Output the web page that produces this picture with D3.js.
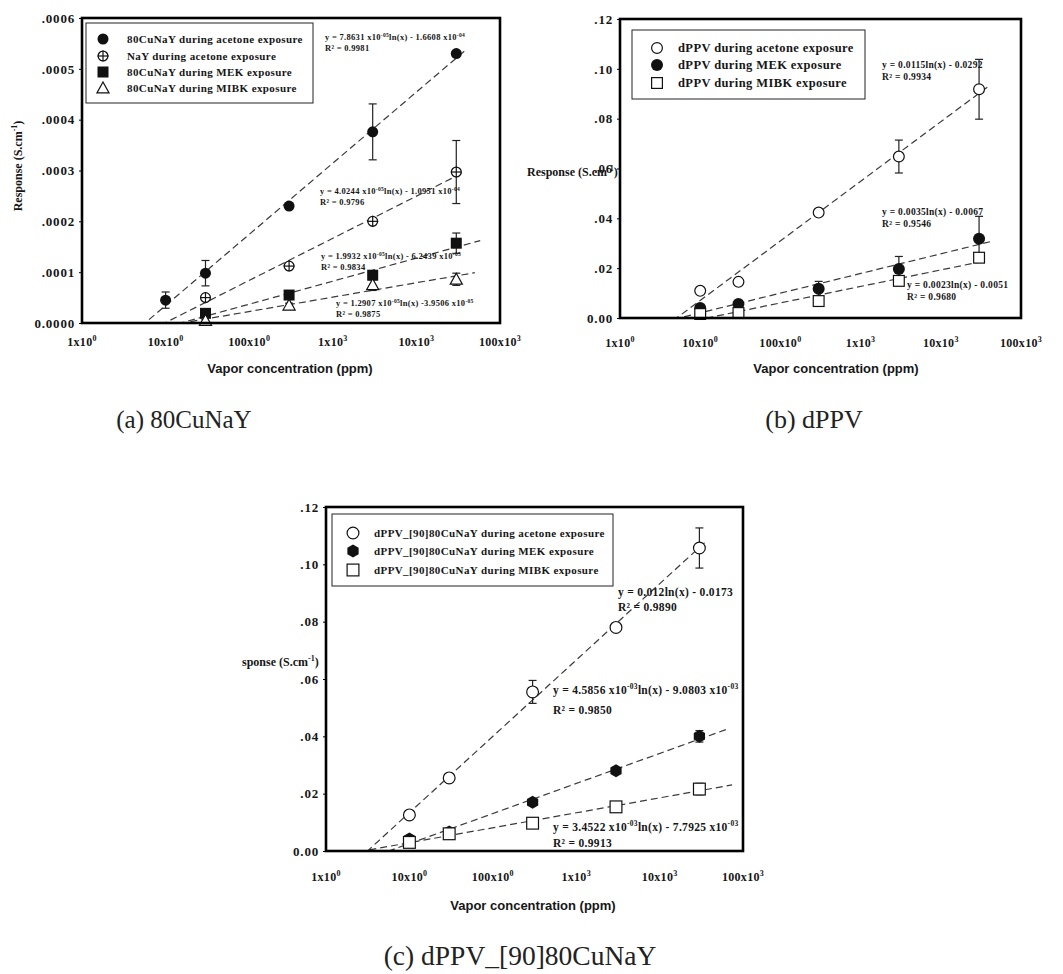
<!DOCTYPE html>
<meta charset="utf-8">
<script src="https://d3js.org/d3.v7.min.js"></script>
<style>
    body { margin: 0; background: #fff; }
    svg text { font-family: 'Liberation Serif', 'Times New Roman', serif; fill: #161616; }
    .ylab { font-size: 13px; font-weight: bold; letter-spacing: 0.8px; }
    .xlab { font-size: 12px; font-weight: bold; letter-spacing: 0.3px; }
    .legend-text { font-weight: bold; letter-spacing: 0.4px; }
    .fit { font-weight: bold; letter-spacing: 0.3px; }
    .trend { fill: none; stroke: #3a3a3a; stroke-width: 1.2px; stroke-dasharray: 7,4; }
    .err { stroke: #222; stroke-width: 1.2px; }
    .frame { fill: none; stroke: #000; stroke-width: 2.6px; }
    .legend-box { fill: #fff; stroke: #222; stroke-width: 1px; }
    .caption { fill: #222; }
    .xtitle { font-family: 'Liberation Sans', sans-serif !important; font-size: 13px; font-weight: bold; }
    .ytitle { font-size: 12px; font-weight: bold; }
</style>

<div id="chart"></div>

<script>
    // vapor concentrations (ppm), same for every panel
    const conc = [10, 30, 300, 3000, 30000];

    // x axis ticks
    const xTickValues = [1, 10, 100, 1000, 10000, 100000];
    const xTickBase = ["1x10", "10x10", "100x10", "1x10", "10x10", "100x10"];
    const xTickExp = ["0", "0", "0", "3", "3", "3"];

    // ---- (a) 80CuNaY ----
    const aYTicks = [0, 0.0001, 0.0002, 0.0003, 0.0004, 0.0005, 0.0006];
    const aYLabels = ["0.0000", ".0001", ".0002", ".0003", ".0004", ".0005", ".0006"];
    const aNames = ["80CuNaY during acetone exposure", "NaY  during acetone exposure",
        "80CuNaY  during MEK exposure", "80CuNaY  during MIBK exposure"];
    const aMarkers = ["disc", "crossCircle", "filledSquare", "openTriangle"];
    const aAcetone = [0.45e-4, 0.98e-4, 2.30e-4, 3.76e-4, 5.30e-4];
    const aAcetoneErr = [0.16e-4, 0.25e-4, 0.06e-4, 0.55e-4, 0];
    const aNaY = [null, 0.50e-4, 1.12e-4, 2.00e-4, 2.97e-4];
    const aNaYErr = [0, 0.04e-4, 0.05e-4, 0.03e-4, 0.62e-4];
    const aMEK = [null, 0.19e-4, 0.55e-4, 0.94e-4, 1.57e-4];
    const aMEKErr = [0, 0.03e-4, 0.04e-4, 0.09e-4, 0.20e-4];
    const aMIBK = [null, 0.05e-4, 0.35e-4, 0.75e-4, 0.86e-4];
    const aMIBKErr = [0, 0, 0.04e-4, 0.11e-4, 0.12e-4];
    const aTrendEnd = [38000, 36000, 58000, 50000];
    const aFitEq = [
        ["y = 7.8631 x10", "-05", "ln(x) - 1.6608 x10", "-04"],
        ["y = 4.0244 x10", "-05", "ln(x) - 1.0951 x10", "-04"],
        ["y = 1.9932 x10", "-05", "ln(x) - 6.2439 x10", "-05"],
        ["y = 1.2907 x10", "-05", "ln(x) -3.9506 x10", "-05"]
    ];
    const aFitR2 = ["R² = 0.9981", "R² = 0.9796", "R² = 0.9834", "R² = 0.9875"];

    // ---- (b) dPPV ----
    const bYTicks = [0, 0.02, 0.04, 0.06, 0.08, 0.10, 0.12];
    const bYLabels = ["0.00", ".02", ".04", ".06", ".08", ".10", ".12"];
    const bNames = ["dPPV during acetone exposure", "dPPV during MEK exposure", "dPPV during MIBK exposure"];
    const bMarkers = ["openCircle", "disc", "openSquare"];
    const bAcetone = [0.0109, 0.0145, 0.0423, 0.0648, 0.0918];
    const bAcetoneErr = [0, 0, 0, 0.0066, 0.0120];
    const bMEK = [0.0040, 0.0056, 0.0117, 0.0197, 0.0318];
    const bMEKErr = [0.001, 0.001, 0.003, 0.005, 0.009];
    const bMIBK = [0.0016, 0.0020, 0.0068, 0.0149, 0.0242];
    const bMIBKErr = [0, 0, 0, 0, 0];
    const bTrendEnd = [38000, 42000, 37000];
    const bFitEq = [["y = 0.0115ln(x) - 0.0292"], ["y = 0.0035ln(x) - 0.0067"], ["y = 0.0023ln(x) - 0.0051"]];
    const bFitR2 = ["R² = 0.9934", "R² = 0.9546", "R² = 0.9680"];

    // ---- (c) dPPV_[90]80CuNaY ----
    const cNames = ["dPPV_[90]80CuNaY during acetone exposure", "dPPV_[90]80CuNaY during MEK exposure",
        "dPPV_[90]80CuNaY during MIBK exposure"];
    const cMarkers = ["openCircle", "filledHex", "openSquare"];
    const cAcetone = [0.0126, 0.0255, 0.0555, 0.0780, 0.1057];
    const cAcetoneErr = [0.001, 0.001, 0.004, 0.001, 0.007];
    const cMEK = [0.0042, 0.0066, 0.0170, 0.0280, 0.0400];
    const cMEKErr = [0.001, 0.001, 0.001, 0.001, 0.002];
    const cMIBK = [0.0030, 0.0060, 0.0097, 0.0154, 0.0216];
    const cMIBKErr = [0.001, 0.001, 0.001, 0.001, 0.002];
    const cTrendEnd = [37000, 66000, 74000];
    const cFitEq = [
        ["y = 0.012ln(x) - 0.0173"],
        ["y = 4.5856 x10", "-03", "ln(x) - 9.0803 x10", "-03"],
        ["y = 3.4522 x10", "-03", "ln(x) - 7.7925 x10", "-03"]
    ];
    const cFitR2 = ["R² = 0.9890", "R² = 0.9850", "R² = 0.9913"];

    const panels = [
        {
            id: "a", left: 82, right: 500, top: 18, bottom: 323, yMax: 0.0006,
            yTicks: aYTicks, yLabels: aYLabels,
            values: [aAcetone, aNaY, aMEK, aMIBK], errors: [aAcetoneErr, aNaYErr, aMEKErr, aMIBKErr],
            names: aNames, markers: aMarkers, trendEnd: aTrendEnd, fitEq: aFitEq, fitR2: aFitR2,
            r: 5.5,
            fitFont: 8.5, fitPos: [[325, 40, 11], [320, 194, 11], [321, 259, 11], [336, 306, 11]],
            legend: {x0: 86, y0: 23, x1: 313, y1: 103, rows: [39, 56, 72, 88], mx: 103, tx: 127, font: 11},
            xLabelY: 346, xTitle: [290, 373],
            yTitle: {rotate: true, x: 22, y: 166, text: "Response (S.cm", sup: "-1", tail: ")"},
            caption: {x: 184, y: 428, size: 25, text: "(a) 80CuNaY"}
        },
        {
            id: "b", left: 620, right: 1021, top: 19, bottom: 318, yMax: 0.12,
            yTicks: bYTicks, yLabels: bYLabels,
            values: [bAcetone, bMEK, bMIBK], errors: [bAcetoneErr, bMEKErr, bMIBKErr],
            names: bNames, markers: bMarkers, trendEnd: bTrendEnd, fitEq: bFitEq, fitR2: bFitR2,
            r: 6,
            fitFont: 9.5, fitPos: [[882, 68, 12], [882, 215, 12], [907, 288, 12]],
            legend: {x0: 632, y0: 30, x1: 865, y1: 99, rows: [48, 65, 83], mx: 657, tx: 678, font: 12.5},
            xLabelY: 347, xTitle: [836, 373],
            yTitle: {rotate: false, x: 527, y: 176, text: "Response (S.cm", sup: "-1", tail: ")"},
            caption: {x: 814, y: 428, size: 26, text: "(b) dPPV"}
        },
        {
            id: "c", left: 326, right: 743, top: 507, bottom: 851, yMax: 0.12,
            yTicks: bYTicks, yLabels: bYLabels,
            values: [cAcetone, cMEK, cMIBK], errors: [cAcetoneErr, cMEKErr, cMIBKErr],
            names: cNames, markers: cMarkers, trendEnd: cTrendEnd, fitEq: cFitEq, fitR2: cFitR2,
            r: 6.5,
            fitFont: 11.5, fitPos: [[618, 596, 15], [553, 694, 20], [553, 831, 16]],
            legend: {x0: 332, y0: 514, x1: 613, y1: 586, rows: [533, 551, 570], mx: 353, tx: 374, font: 11},
            xLabelY: 881, xTitle: [533, 910],
            yTitle: {rotate: false, x: 242, y: 666, text: "sponse (S.cm", sup: "-1", tail: ")"},
            caption: {x: 520, y: 965, size: 27.5, text: "(c) dPPV_[90]80CuNaY"}
        }
    ];

    let svg = d3.select("#chart")
        .append("svg")
        .attr("width", 1063)
        .attr("height", 974);

    // least squares fit of y = a ln(x) + b
    function logFit(xs, ys) {
        let lx = xs.map(Math.log);
        let mx = d3.mean(lx), my = d3.mean(ys);
        let num = d3.sum(lx, (v, i) => (v - mx) * (ys[i] - my));
        let den = d3.sum(lx, v => (v - mx) * (v - mx));
        let a = num / den;
        return {a: a, b: my - a * mx};
    }

    function drawMarker(g, type, cx, cy, r) {
        const ink = "#111";
        if (type === "disc") {
            g.append("circle").attr("cx", cx).attr("cy", cy).attr("r", r).attr("fill", ink);
        } else if (type === "openCircle") {
            g.append("circle").attr("cx", cx).attr("cy", cy).attr("r", r - 0.6)
                .attr("fill", "#fff").attr("stroke", ink).attr("stroke-width", 1.2);
        } else if (type === "crossCircle") {
            g.append("circle").attr("cx", cx).attr("cy", cy).attr("r", r - 0.6)
                .attr("fill", "#fff").attr("stroke", ink).attr("stroke-width", 1.3);
            g.append("line").attr("x1", cx - r).attr("x2", cx + r).attr("y1", cy).attr("y2", cy)
                .attr("stroke", ink).attr("stroke-width", 1.2);
            g.append("line").attr("x1", cx).attr("x2", cx).attr("y1", cy - r).attr("y2", cy + r)
                .attr("stroke", ink).attr("stroke-width", 1.2);
        } else if (type === "filledSquare") {
            g.append("rect").attr("x", cx - r).attr("y", cy - r).attr("width", 2 * r).attr("height", 2 * r)
                .attr("fill", ink);
        } else if (type === "openSquare") {
            g.append("rect").attr("x", cx - r + 0.6).attr("y", cy - r + 0.6)
                .attr("width", 2 * r - 1.2).attr("height", 2 * r - 1.2)
                .attr("fill", "#fff").attr("stroke", ink).attr("stroke-width", 1.2);
        } else if (type === "openTriangle") {
            let h = r * 1.1;
            g.append("path")
                .attr("d", "M" + cx + "," + (cy - h) + "L" + (cx + h) + "," + (cy + h * 0.8) +
                    "L" + (cx - h) + "," + (cy + h * 0.8) + "Z")
                .attr("fill", "#fff").attr("stroke", ink).attr("stroke-width", 1.2);
        } else if (type === "filledHex") {
            let pts = d3.range(6).map(k => {
                let ang = Math.PI / 6 + k * Math.PI / 3;
                return [cx + r * Math.cos(ang), cy + r * Math.sin(ang)];
            });
            g.append("path").attr("d", "M" + pts.join("L") + "Z").attr("fill", ink);
        }
    }

    function supText(sel, segments, fontSize) {
        segments.forEach(function (s, i) {
            let t = sel.append("tspan").text(s);
            if (i % 2 === 1) {
                t.attr("font-size", fontSize * 0.65).attr("dy", -fontSize * 0.4);
            } else if (i > 0) {
                t.attr("dy", fontSize * 0.4);
            }
        });
    }

    panels.forEach(function (p) {
        let g = svg.append("g").attr("class", "panel-" + p.id);

        let x = d3.scaleLog().domain([1, 100000]).range([p.left, p.right]);
        let y = d3.scaleLinear().domain([0, p.yMax]).range([p.bottom, p.top]);

        // clip for trend lines
        svg.append("clipPath").attr("id", "clip-" + p.id)
            .append("rect")
            .attr("x", p.left).attr("y", p.top)
            .attr("width", p.right - p.left).attr("height", p.bottom - p.top);

        // Y axis
        let yAxis = g.append("g")
            .attr("transform", "translate(" + p.left + ",0)")
            .call(d3.axisLeft(y).tickValues(p.yTicks).tickSize(3).tickPadding(4)
                .tickFormat(function (d, i) { return p.yLabels[i]; }));
        yAxis.select(".domain").remove();
        yAxis.selectAll("text").attr("class", "ylab").attr("font-family", null).attr("font-size", null);

        // X axis labels
        xTickValues.forEach(function (v, i) {
            let t = g.append("text")
                .attr("class", "xlab")
                .attr("x", x(v))
                .attr("y", p.xLabelY)
                .attr("text-anchor", "middle");
            t.append("tspan").text(xTickBase[i]);
            t.append("tspan").text(xTickExp[i]).attr("font-size", 8).attr("dy", -5);
        });

        g.append("text")
            .attr("class", "xtitle")
            .attr("x", p.xTitle[0])
            .attr("y", p.xTitle[1])
            .attr("text-anchor", "middle")
            .text("Vapor concentration (ppm)");

        // Y title
        let yt = g.append("text").attr("class", "ytitle");
        if (p.yTitle.rotate) {
            yt.attr("transform", "translate(" + p.yTitle.x + "," + p.yTitle.y + ") rotate(-90)")
                .attr("text-anchor", "middle");
        } else {
            yt.attr("x", p.yTitle.x).attr("y", p.yTitle.y);
        }
        yt.append("tspan").text(p.yTitle.text);
        yt.append("tspan").text(p.yTitle.sup).attr("font-size", 8).attr("dy", -5);
        yt.append("tspan").text(p.yTitle.tail).attr("dy", 5);

        // trend lines
        p.values.forEach(function (vals, si) {
            let xs = [], ys = [];
            vals.forEach(function (v, i) {
                if (v !== null) { xs.push(conc[i]); ys.push(v); }
            });
            let fit = logFit(xs, ys);
            let pts = [1, p.trendEnd[si]].map(c => [x(c), y(fit.a * Math.log(c) + fit.b)]);
            g.append("path")
                .attr("class", "trend")
                .attr("clip-path", "url(#clip-" + p.id + ")")
                .attr("d", d3.line()(pts));
        });

        // error bars
        p.values.forEach(function (vals, si) {
            vals.forEach(function (v, i) {
                let e = p.errors[si][i];
                if (v === null || !e) return;
                let cx = x(conc[i]);
                g.append("line").attr("class", "err")
                    .attr("x1", cx).attr("x2", cx).attr("y1", y(v - e)).attr("y2", y(v + e));
                [v - e, v + e].forEach(function (w) {
                    g.append("line").attr("class", "err")
                        .attr("x1", cx - 4).attr("x2", cx + 4).attr("y1", y(w)).attr("y2", y(w));
                });
            });
        });

        // markers
        p.values.forEach(function (vals, si) {
            vals.forEach(function (v, i) {
                if (v === null) return;
                drawMarker(g, p.markers[si], x(conc[i]), y(v), p.r);
            });
        });

        // fit equations
        p.fitEq.forEach(function (seg, si) {
            let pos = p.fitPos[si];
            let t = g.append("text").attr("class", "fit")
                .attr("x", pos[0]).attr("y", pos[1]).attr("font-size", p.fitFont);
            supText(t, seg, p.fitFont);
            g.append("text").attr("class", "fit")
                .attr("x", pos[0]).attr("y", pos[1] + pos[2]).attr("font-size", p.fitFont)
                .text(p.fitR2[si]);
        });

        // legend
        let L = p.legend;
        g.append("rect").attr("class", "legend-box")
            .attr("x", L.x0).attr("y", L.y0).attr("width", L.x1 - L.x0).attr("height", L.y1 - L.y0);
        p.names.forEach(function (name, si) {
            drawMarker(g, p.markers[si], L.mx, L.rows[si], p.r);
            g.append("text").attr("class", "legend-text")
                .attr("x", L.tx).attr("y", L.rows[si]).attr("dy", "0.35em")
                .attr("font-size", L.font)
                .text(name);
        });

        // frame
        g.append("rect").attr("class", "frame")
            .attr("x", p.left).attr("y", p.top)
            .attr("width", p.right - p.left).attr("height", p.bottom - p.top);

        // caption
        g.append("text").attr("class", "caption")
            .attr("x", p.caption.x).attr("y", p.caption.y)
            .attr("font-size", p.caption.size)
            .attr("text-anchor", "middle")
            .text(p.caption.text);
    });
</script>
